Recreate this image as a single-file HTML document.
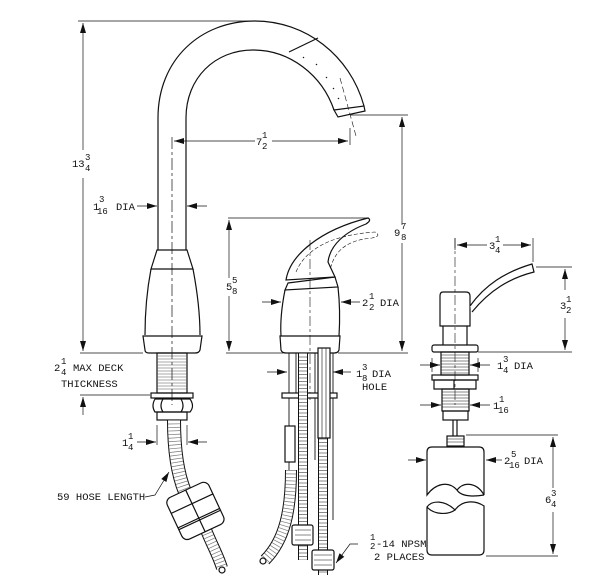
<!DOCTYPE html>
<html><head><meta charset="utf-8"><style>
html,body{margin:0;padding:0;background:#fff;width:600px;height:584px;overflow:hidden}
svg{display:block}
text{font-family:"Liberation Mono",monospace;font-size:10.5px;fill:#111}
.f{font-size:9px}
</style></head><body>
<svg width="600" height="584" viewBox="0 0 600 584" xmlns="http://www.w3.org/2000/svg">
<defs>
<marker id="a" viewBox="0 0 10 6" refX="10" refY="3" markerWidth="10" markerHeight="6" orient="auto-start-reverse" markerUnits="userSpaceOnUse"><path d="M0,0L10,3L0,6Z" fill="#111"/></marker>
</defs>
<g fill="none" stroke="#111" stroke-width="1.2">
<!-- main faucet spout -->
<path d="M158,250 L158,118 C158,60 200,21 255,21 C305,21 350,55 364,106"/>
<path d="M186,250 L186,118 C186,78 215,50 253,50 C290,50 322,75 334,110"/>
<path d="M289,52 L318,38"/>
<path d="M334,110 L364,106 L365,111 L338,117 Z"/>
<g stroke-width="1.2"><path d="M303,57 L304,58 M316,64 L317,65 M326,77 L327,78 M333,88 L334,89 M338,98 L339,99"/></g>
<path d="M340,78 L356,136" stroke-width="0.6" stroke-dasharray="6,3"/>
<!-- base -->
<path d="M157,250 L187,250 L193,269 L151,269 Z"/>
<path d="M151,269 C147,290 145,315 145,335 M193,269 C197,290 200,315 200,335"/>
<path d="M143,336 L202,336 L200,350 Q199,353 195,353 L149,353 Q145,353 145,350 Z"/>
<rect x="157" y="353" width="30" height="40"/>
<g stroke-width="0.5" stroke="#555"><path d="M157,356H187M157,359H187M157,362H187M157,365H187M157,368H187M157,371H187M157,374H187M157,377H187M157,380H187M157,383H187M157,386H187M157,389H187"/></g>
<rect x="151" y="393" width="42" height="5"/>
<path d="M155,399 Q151,406 155,412 L190,412 Q195,406 190,399 Z"/>
<path d="M163,399 Q159,406 163,412 M181,399 Q185,406 181,412"/>
<rect x="157" y="412" width="30" height="8"/>
<!-- main hose -->
<path d="M174,420 C174,450 178,475 185,492" stroke-width="14"/>
<path d="M174,420 C174,450 178,475 185,492" stroke="#fff" stroke-width="12"/>
<path d="M174,420 C174,450 178,475 185,492" stroke-width="12" stroke="#777" stroke-dasharray="0.7,2.8"/>
<path d="M206,530 C212,545 218,555 222,568" stroke-width="12"/>
<path d="M206,530 C212,545 218,555 222,568" stroke="#fff" stroke-width="10"/>
<path d="M206,530 C212,545 218,555 222,568" stroke-width="10" stroke="#777" stroke-dasharray="0.7,2.8"/>
<circle cx="222" cy="570" r="3"/>
<g transform="rotate(-25 195 510)">
<rect x="172" y="488" width="46" height="46" rx="6" fill="#fff"/>
<path d="M195,488V534M172,503H218M172,519H218M172,521H218"/>
</g>
<!-- centerline main -->
<path d="M172,137 L172,405" stroke-width="0.7" stroke-dasharray="12,3,3,3"/>
<!-- dims main -->
<path d="M78,21 L255,21" stroke-width="0.7"/>
<path d="M83,150 L83,23" marker-end="url(#a)" stroke-width="0.7"/>
<path d="M83,178 L83,351" marker-end="url(#a)" stroke-width="0.7"/>
<path d="M80,353 L143,353" stroke-width="0.7"/>
<path d="M80,395 L150,395" stroke-width="0.7"/>
<path d="M83,415 L83,397" marker-end="url(#a)" stroke-width="0.7"/>
<path d="M137,206 L157,206" marker-end="url(#a)" stroke-width="0.7"/>
<path d="M207,206 L187,206" marker-end="url(#a)" stroke-width="0.7"/>
<path d="M255,141 L174,141" marker-end="url(#a)" stroke-width="0.7"/>
<path d="M272,141 L348,141" marker-end="url(#a)" stroke-width="0.7"/>
<path d="M350,128 L350,145" stroke-width="0.7"/>
<path d="M350,115 L408,115" stroke-width="0.7"/>
<path d="M402,225 L402,117" marker-end="url(#a)" stroke-width="0.7"/>
<path d="M402,243 L402,351" marker-end="url(#a)" stroke-width="0.7"/>
<path d="M157,425 L157,445 M187,425 L187,445" stroke-width="0.7"/>
<path d="M137,442 L156,442" marker-end="url(#a)" stroke-width="0.7"/>
<path d="M207,442 L188,442" marker-end="url(#a)" stroke-width="0.7"/>
<path d="M145,497 L155,495 L169,472" stroke-width="0.7" marker-end="url(#a)"/>
<!-- handle valve -->
<path d="M286,280 C290,255 320,230 368,218 Q372,220 366,224 C345,232 330,245 328,262 L335,277 Z" fill="#fff"/>
<path d="M296,272 C305,250 330,235 375,232 Q382,236 372,238 C350,240 335,248 330,270" stroke-width="0.6" stroke-dasharray="4,2"/>
<path d="M288,283 L335,277 L338,287 L285,290 Z"/>
<path d="M285,290 C282,305 280,320 281,336 M338,287 C340,305 340,320 339,336"/>
<path d="M280,336 L340,336 L339,350 Q338,353 334,353 L286,353 Q282,353 281,350 Z"/>
<path d="M310,240 L310,400" stroke-width="0.6" stroke-dasharray="10,3,3,3"/>
<path d="M289,353V470 M296,353V395 M303,353V430 M315,353V460 M321,353V460 M327,353V520 M333,353V520" stroke-width="0.9"/>
<rect x="282" y="393" width="55" height="5" fill="#fff"/>
<rect x="285" y="426" width="10" height="36" fill="#fff"/>
<path d="M303,353 L303,560" stroke-width="10"/>
<path d="M303,353 L303,560" stroke="#fff" stroke-width="8"/>
<path d="M303,353 L303,560" stroke-width="8" stroke="#888" stroke-dasharray="1,2.5"/>
<path d="M323,435 L323,575" stroke-width="10"/>
<path d="M323,435 L323,575" stroke="#fff" stroke-width="8"/>
<path d="M323,435 L323,575" stroke-width="8" stroke="#888" stroke-dasharray="1,2.5"/>
<rect x="318" y="348" width="12" height="90" fill="#fff"/>
<path d="M322,348V438 M326,348V438" stroke-width="0.6"/>
<path d="M291,470 C291,510 285,540 265,560" stroke-width="12"/>
<path d="M291,470 C291,510 285,540 265,560" stroke="#fff" stroke-width="10"/>
<path d="M291,470 C291,510 285,540 265,560" stroke-width="10" stroke="#777" stroke-dasharray="0.7,2.8"/>
<circle cx="263" cy="561" r="3"/>
<rect x="292" y="525" width="21" height="20" rx="2" fill="#fff"/>
<rect x="312" y="550" width="22" height="20" rx="2" fill="#fff"/>
<path d="M295,530H311M295,535H311M295,540H311M314,555H332M314,560H332M314,565H332" stroke-width="0.5"/>
<!-- valve dims -->
<path d="M228,218 L369,218" stroke-width="0.7"/>
<path d="M229,278 L229,220" marker-end="url(#a)" stroke-width="0.7"/>
<path d="M229,296 L229,351" marker-end="url(#a)" stroke-width="0.7"/>
<path d="M226,353 L283,353 M338,353 L408,353" stroke-width="0.7"/>
<path d="M262,302 L281,302" marker-end="url(#a)" stroke-width="0.7"/>
<path d="M360,302 L341,302" marker-end="url(#a)" stroke-width="0.7"/>
<path d="M267,372 L287,372" marker-end="url(#a)" stroke-width="0.7"/>
<path d="M351,372 L333,372" marker-end="url(#a)" stroke-width="0.7"/>
<path d="M358,544 L350,544 L336,563" stroke-width="0.7" marker-end="url(#a)"/>
<!-- soap dispenser -->
<path d="M443,292 L466,292 Q470,292 470,296 L470,326 L440,326 L440,296 Q440,292 443,292 Z"/>
<path d="M470,306 C485,285 505,272 532,264 L534,272 C510,278 490,290 472,312" fill="#fff"/>
<path d="M443,326 L443,345 M467,326 L467,345"/>
<rect x="432" y="345" width="46" height="7" rx="2"/>
<rect x="441" y="352" width="28" height="23"/>
<path d="M441,355H469M441,358H469M441,361H469M441,364H469M441,367H469M441,370H469M441,373H469" stroke-width="0.5"/>
<rect x="432" y="375" width="46" height="5"/>
<path d="M434,380 L476,380 L476,389 L434,389 Z M454,380V389"/>
<rect x="442" y="389" width="27" height="22"/>
<path d="M442,392H469M442,395H469M442,398H469M442,401H469M442,404H469M442,407H469" stroke-width="0.5"/>
<rect x="443" y="411" width="25" height="9"/>
<path d="M453,420V436 M457,420V436"/>
<rect x="447" y="436" width="17" height="10"/>
<path d="M447,439H464M447,442H464" stroke-width="0.5"/>
<path d="M427,495 L427,452 Q427,447 432,447 L479,447 Q484,447 484,452 L484,495 C478,484 465,480 457,490 C448,480 435,484 427,495 Z"/>
<path d="M457,490 C462,498 478,496 484,495"/>
<path d="M427,507 C432,500 445,500 455,510 C462,500 475,500 484,506 L484,550 Q484,555 479,555 L432,555 Q427,555 427,550 Z"/>
<path d="M427,507 C434,515 448,515 455,510"/>
<path d="M455,238 L455,405" stroke-width="0.6" stroke-dasharray="10,3,3,3"/>
<!-- soap dims -->
<path d="M455,238 L455,250 M533,238 L533,262" stroke-width="0.7"/>
<path d="M487,245 L457,245" marker-end="url(#a)" stroke-width="0.7"/>
<path d="M503,245 L531,245" marker-end="url(#a)" stroke-width="0.7"/>
<path d="M536,267 L572,267 M478,352 L572,352" stroke-width="0.7"/>
<path d="M565,290 L565,269" marker-end="url(#a)" stroke-width="0.7"/>
<path d="M565,318 L565,350" marker-end="url(#a)" stroke-width="0.7"/>
<path d="M420,365 L440,365" marker-end="url(#a)" stroke-width="0.7"/>
<path d="M490,365 L470,365" marker-end="url(#a)" stroke-width="0.7"/>
<path d="M432,358V372 M478,358V372" stroke-width="0.7"/>
<path d="M420,405 L441,405" marker-end="url(#a)" stroke-width="0.7"/>
<path d="M490,405 L470,405" marker-end="url(#a)" stroke-width="0.7"/>
<path d="M466,435 L558,435 M486,556 L558,556" stroke-width="0.7"/>
<path d="M553,488 L553,437" marker-end="url(#a)" stroke-width="0.7"/>
<path d="M553,512 L553,554" marker-end="url(#a)" stroke-width="0.7"/>
<path d="M408,460 L426,460" marker-end="url(#a)" stroke-width="0.7"/>
<path d="M502,460 L486,460" marker-end="url(#a)" stroke-width="0.7"/>
</g>
<!-- labels -->
<text x="72" y="167">13</text><text class="f" x="85" y="160">3</text><text class="f" x="85" y="171">4</text>
<text x="93" y="210">1</text><text class="f" x="99" y="202">3</text><text class="f" x="97" y="214">16</text><text x="116" y="210">DIA</text>
<text x="256" y="145">7</text><text class="f" x="262" y="138">1</text><text class="f" x="262" y="149">2</text>
<text x="394" y="236">9</text><text class="f" x="401" y="229">7</text><text class="f" x="401" y="240">8</text>
<text x="226" y="290">5</text><text class="f" x="232" y="283">5</text><text class="f" x="232" y="294">8</text>
<text x="362" y="306">2</text><text class="f" x="369" y="299">1</text><text class="f" x="369" y="310">2</text><text x="380" y="306">DIA</text>
<text x="54" y="371">2</text><text class="f" x="61" y="364">1</text><text class="f" x="61" y="375">4</text><text x="73" y="371">MAX DECK</text>
<text x="61" y="387">THICKNESS</text>
<text x="356" y="377">1</text><text class="f" x="362" y="370">3</text><text class="f" x="362" y="381">8</text><text x="372" y="377">DIA</text>
<text x="362" y="390">HOLE</text>
<text x="122" y="446">1</text><text class="f" x="128" y="439">1</text><text class="f" x="128" y="450">4</text>
<text x="57" y="500">59 HOSE LENGTH</text>
<text class="f" x="370" y="540">1</text><text class="f" x="370" y="549">2</text><text x="376" y="547">-14 NPSM</text>
<text x="374" y="560">2 PLACES</text>
<text x="489" y="249">3</text><text class="f" x="495" y="242">1</text><text class="f" x="495" y="253">4</text>
<text x="560" y="309">3</text><text class="f" x="566" y="302">1</text><text class="f" x="566" y="313">2</text>
<text x="497" y="369">1</text><text class="f" x="503" y="362">3</text><text class="f" x="503" y="373">4</text><text x="514" y="369">DIA</text>
<text x="493" y="409">1</text><text class="f" x="499" y="402">1</text><text class="f" x="498" y="413">16</text>
<text x="504" y="464">2</text><text class="f" x="511" y="457">5</text><text class="f" x="509" y="468">16</text><text x="524" y="464">DIA</text>
<text x="545" y="503">6</text><text class="f" x="551" y="496">3</text><text class="f" x="551" y="507">4</text>
</svg>
</body></html>
